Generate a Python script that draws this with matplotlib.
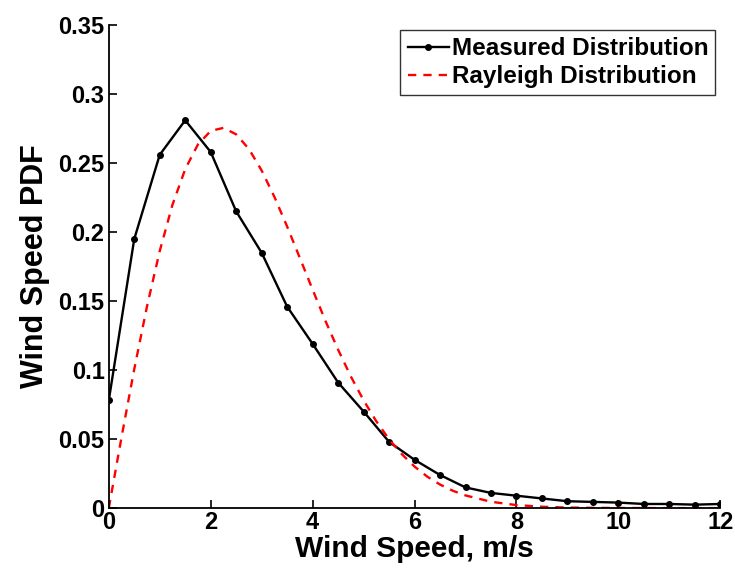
import matplotlib
matplotlib.use("Agg")
import matplotlib.pyplot as plt

plt.rcParams['font.family'] = ['Liberation Sans', 'DejaVu Sans']
plt.rcParams['font.weight'] = 'bold'

# measured wind speed histogram (pdf), bins every 0.5 m/s
speed_measured = [0, 0.5, 1, 1.5, 2, 2.5, 3, 3.5, 4, 4.5, 5, 5.5, 6, 6.5,
                  7, 7.5, 8, 8.5, 9, 9.5, 10, 10.5, 11, 11.5, 12]
pdf_measured = [0.078, 0.195, 0.256, 0.281, 0.258, 0.215, 0.185, 0.146,
                0.119, 0.091, 0.070, 0.048, 0.035, 0.024, 0.015, 0.011,
                0.009, 0.007, 0.005, 0.0045, 0.004, 0.003, 0.003, 0.0025,
                0.003]

# fitted rayleigh curve
speed_rayleigh = [0, 0.25, 0.5, 0.75, 1, 1.25, 1.5, 1.75, 2, 2.25, 2.5, 2.75,
                  3, 3.25, 3.5, 3.75, 4, 4.25, 4.5, 4.75, 5, 5.25, 5.5, 5.75,
                  6, 6.25, 6.5, 6.75, 7, 7.5, 8, 8.5, 9, 9.5, 10, 11, 12]
pdf_rayleigh = [0, 0.0513, 0.1007, 0.1462, 0.1863, 0.2198, 0.2456, 0.2635,
                0.2733, 0.2755, 0.2708, 0.2602, 0.2446, 0.2255, 0.2040,
                0.1812, 0.1583, 0.1358, 0.1148, 0.0954, 0.0781, 0.0629,
                0.0499, 0.0391, 0.0301, 0.0228, 0.0171, 0.0126, 0.0092,
                0.0046, 0.0022, 0.0010, 0.0004, 0.0002, 0.0001, 0, 0]

xticks = [0, 2, 4, 6, 8, 10, 12]
yticks = [0, 0.05, 0.1, 0.15, 0.2, 0.25, 0.3, 0.35]
ytick_labels = ['0', '0.05', '0.1', '0.15', '0.2', '0.25', '0.3', '0.35']

fig = plt.figure(figsize=(7.35, 5.69), dpi=100)
ax = fig.add_axes([0.148, 0.107, 0.832, 0.849])

ax.plot(speed_measured, pdf_measured, '-', color='black', lw=1.7,
        marker='o', ms=4, label='Measured Distribution')
ax.plot(speed_rayleigh, pdf_rayleigh, '--', color='red', lw=1.7,
        dashes=(3.5, 3), label='Rayleigh Distribution')

ax.set_xlim(0, 12)
ax.set_ylim(0, 0.35)
ax.set_xticks(xticks)
ax.set_yticks(yticks)
ax.set_yticklabels(ytick_labels)
ax.tick_params(direction='in', length=6, width=1.2, labelsize=17)
ax.tick_params(axis='x', pad=2)
ax.tick_params(axis='y', pad=3)
for side in ['top', 'right']:
    ax.spines[side].set_visible(False)
for side in ['left', 'bottom']:
    ax.spines[side].set_linewidth(1.3)

ax.set_xlabel('Wind Speed, m/s', fontsize=21.5, fontweight='bold', labelpad=1)
ax.set_ylabel('Wind Speed PDF', fontsize=22, fontweight='bold', labelpad=6)

leg = ax.legend(loc='upper right', fontsize=17.5, handlelength=1.7,
                handletextpad=0.1, borderpad=0.3, labelspacing=0.2,
                frameon=True, fancybox=False, borderaxespad=0.2)
leg.get_frame().set_edgecolor('black')
leg.get_frame().set_linewidth(1.0)

fig.savefig('out.png', dpi=100)
